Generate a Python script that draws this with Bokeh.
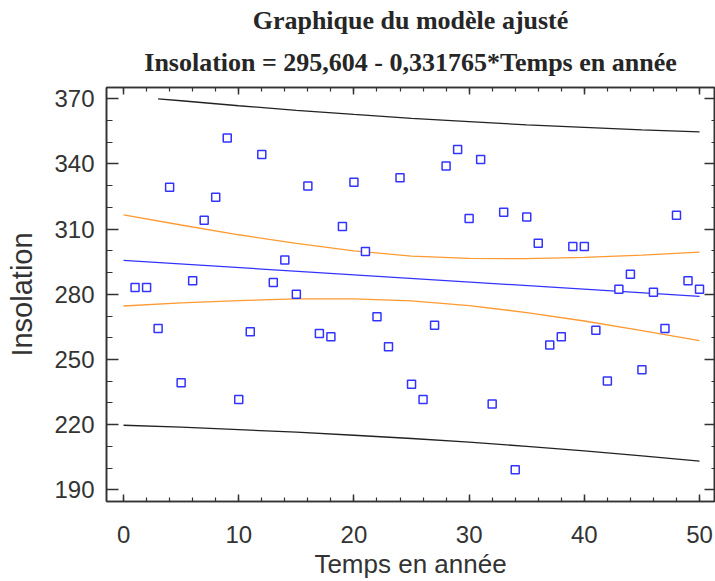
from bokeh.plotting import figure
from bokeh.models import Range1d, LinearAxis, FixedTicker, Title
from bokeh.embed import file_html
from bokeh.resources import INLINE

# ---- data ----
years = list(range(1, 51))
insolation = [283.1, 283.1, 264.2, 329.3, 239.3, 286.2, 314.1, 324.7, 351.9, 231.6,
              262.7, 344.3, 285.4, 295.8, 280.0, 329.9, 261.9, 260.4, 311.2, 331.6,
              299.7, 269.6, 255.9, 333.7, 238.6, 231.6, 265.7, 339.1, 346.6, 314.9,
              342.0, 229.5, 317.8, 199.2, 315.6, 303.5, 256.7, 260.4, 302.0, 302.0,
              263.4, 240.1, 282.3, 289.2, 245.3, 280.9, 264.2, 316.4, 286.2, 282.3]

fit_x = [0, 50]
fit_y = [295.6, 279.0]

band_x = [0, 5, 10, 15, 20, 25, 30, 35, 40, 45, 50]
conf_upper = [316.6, 311.9, 307.4, 303.4, 300.0, 297.6, 296.5, 296.4, 297.0, 298.0, 299.4]
conf_lower = [274.6, 276.0, 277.1, 277.9, 277.9, 277.0, 274.8, 271.6, 267.7, 263.3, 258.7]

pred_upper_x = [3, 5, 10, 15, 20, 25, 30, 35, 40, 45, 50]
pred_upper = [370.0, 369.1, 366.8, 364.7, 362.8, 361.0, 359.5, 358.0, 356.8, 355.7, 354.8]
pred_lower = [219.7, 218.8, 217.7, 216.5, 215.1, 213.6, 211.9, 210.0, 207.9, 205.6, 203.2]

x_ticks = [0, 10, 20, 30, 40, 50]
x_minor = list(range(0, 52, 2))
y_ticks = [190, 220, 250, 280, 310, 340, 370]
y_minor = list(range(190, 371, 10))

title_line1 = "Graphique du modèle ajusté"
title_line2 = "Insolation = 295,604 - 0,331765*Temps en année"
x_label = "Temps en année"
y_label = "Insolation"

AX = "#333333"

p = figure(width=715, height=581, output_backend="svg", toolbar_location=None,
           x_range=Range1d(-1.48, 51.3), y_range=Range1d(184.6, 375.2),
           min_border_left=106, min_border_right=1, min_border_top=87, min_border_bottom=79,
           title=None, background_fill_color="white", border_fill_color="white")
p.xgrid.visible = False
p.ygrid.visible = False
p.outline_line_color = AX
p.outline_line_width = 1.5

p.xaxis.visible = False
p.yaxis.visible = False
p.below = []
p.left = []

def style(ax, major_in, minor_in, labels=True):
    ax.axis_line_color = AX
    ax.axis_line_width = 1.6
    ax.major_tick_line_color = AX
    ax.minor_tick_line_color = AX
    ax.major_tick_line_width = 1.5
    ax.minor_tick_line_width = 1.2
    ax.major_tick_in = major_in
    ax.major_tick_out = 0
    ax.minor_tick_in = minor_in
    ax.minor_tick_out = 0
    if labels:
        ax.major_label_text_font = "Liberation Sans"
        ax.major_label_text_font_size = "24px"
        ax.major_label_text_color = AX
    else:
        ax.major_label_text_font_size = "0px"
        ax.major_label_text_color = None
        ax.major_label_standoff = 0

xt = FixedTicker(ticks=x_ticks, minor_ticks=x_minor)
yt = FixedTicker(ticks=y_ticks, minor_ticks=y_minor)

bottom = LinearAxis(ticker=xt, axis_label=x_label)
style(bottom, 7, 4)
bottom.major_label_standoff = 24
bottom.axis_label_standoff = 3
bottom.axis_label_text_font = "Liberation Sans"
bottom.axis_label_text_font_size = "26px"
bottom.axis_label_text_font_style = "normal"
bottom.axis_label_text_color = AX
p.add_layout(bottom, "below")

left = LinearAxis(ticker=yt, axis_label=y_label)
style(left, 12, 6)
left.major_label_standoff = 12
left.axis_label_standoff = 13
left.axis_label_text_font = "Liberation Sans"
left.axis_label_text_font_size = "29px"
left.axis_label_text_font_style = "normal"
left.axis_label_text_color = AX
p.add_layout(left, "left")

top = LinearAxis(ticker=xt)
style(top, 7, 4, labels=False)
p.add_layout(top, "above")

right = LinearAxis(ticker=yt)
style(right, 10, 3, labels=False)
p.add_layout(right, "right")

t2 = Title(text=title_line2, align="center", vertical_align="top",
           text_font="Liberation Serif", text_font_size="26px", text_font_style="bold",
           text_color="#262626", standoff=17)
t1 = Title(text=title_line1, align="center", vertical_align="top",
           text_font="Liberation Serif", text_font_size="26px", text_font_style="bold",
           text_color="#262626", standoff=5)
p.add_layout(t2, "above")
p.add_layout(t1, "above")

# prediction limits
p.line(pred_upper_x, pred_upper, line_color="#222222", line_width=1.3)
p.line(band_x, pred_lower, line_color="#222222", line_width=1.3)
# confidence limits
p.line(band_x, conf_upper, line_color="#FF9A33", line_width=1.3)
p.line(band_x, conf_lower, line_color="#FF9A33", line_width=1.3)
# fitted line
p.line(fit_x, fit_y, line_color="#3333FF", line_width=1.3)
# observations
p.scatter(years, insolation, marker="square", size=8, line_color="#3333FF",
          fill_color="white", line_width=1.5)

open("out.html", "w").write(file_html(p, INLINE))
